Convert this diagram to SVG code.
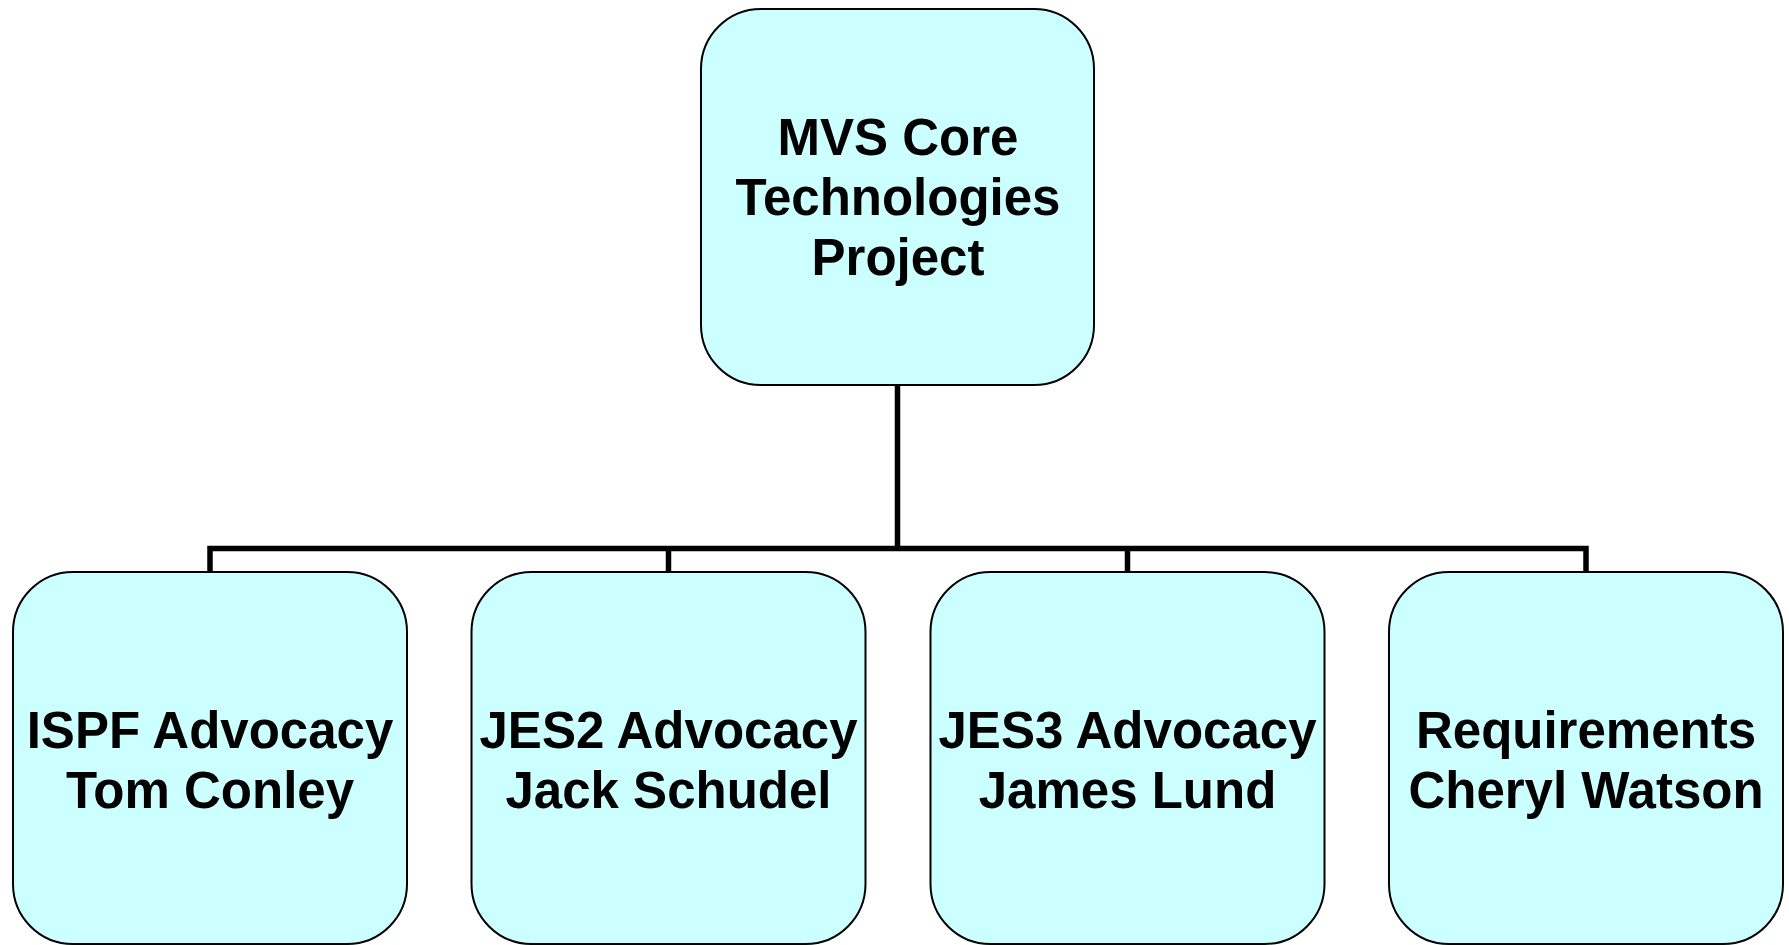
<svg xmlns="http://www.w3.org/2000/svg" width="1789" height="945" viewBox="0 0 1789 945">
<style>
.box{fill:#CCFFFF;stroke:#000;stroke-width:2}
.t{font-family:"Liberation Sans",Arial,sans-serif;font-weight:bold;font-size:51px;fill:#000;text-anchor:middle}
.c{fill:none;stroke:#000;stroke-width:5.5}
</style>
<rect width="1789" height="945" fill="#fff"/>
<g id="connectors">
<path class="c" d="M897.5 385 V548.5"/>
<path class="c" d="M210 572 V548.5 H1586 V572"/>
<path class="c" d="M668.5 548.5 V572"/>
<path class="c" d="M1127.5 548.5 V572"/>
</g>
<g id="root">
<rect class="box" x="701" y="9" width="393" height="376" rx="60" ry="60"/>
<text class="t" x="898" y="155">MVS Core</text>
<text class="t" x="898" y="215">Technologies</text>
<text class="t" x="898" y="275">Project</text>
</g>
<g id="ispf">
<rect class="box" x="13" y="572" width="394" height="372" rx="60" ry="60"/>
<text class="t" x="210" y="748">ISPF Advocacy</text>
<text class="t" x="210" y="808">Tom Conley</text>
</g>
<g id="jes2">
<rect class="box" x="471.5" y="572" width="394" height="372" rx="60" ry="60"/>
<text class="t" x="668.5" y="748">JES2 Advocacy</text>
<text class="t" x="668.5" y="808">Jack Schudel</text>
</g>
<g id="jes3">
<rect class="box" x="930.5" y="572" width="394" height="372" rx="60" ry="60"/>
<text class="t" x="1127.5" y="748">JES3 Advocacy</text>
<text class="t" x="1127.5" y="808">James Lund</text>
</g>
<g id="requirements">
<rect class="box" x="1389" y="572" width="394" height="372" rx="60" ry="60"/>
<text class="t" x="1586" y="748">Requirements</text>
<text class="t" x="1586" y="808">Cheryl Watson</text>
</g>
</svg>
